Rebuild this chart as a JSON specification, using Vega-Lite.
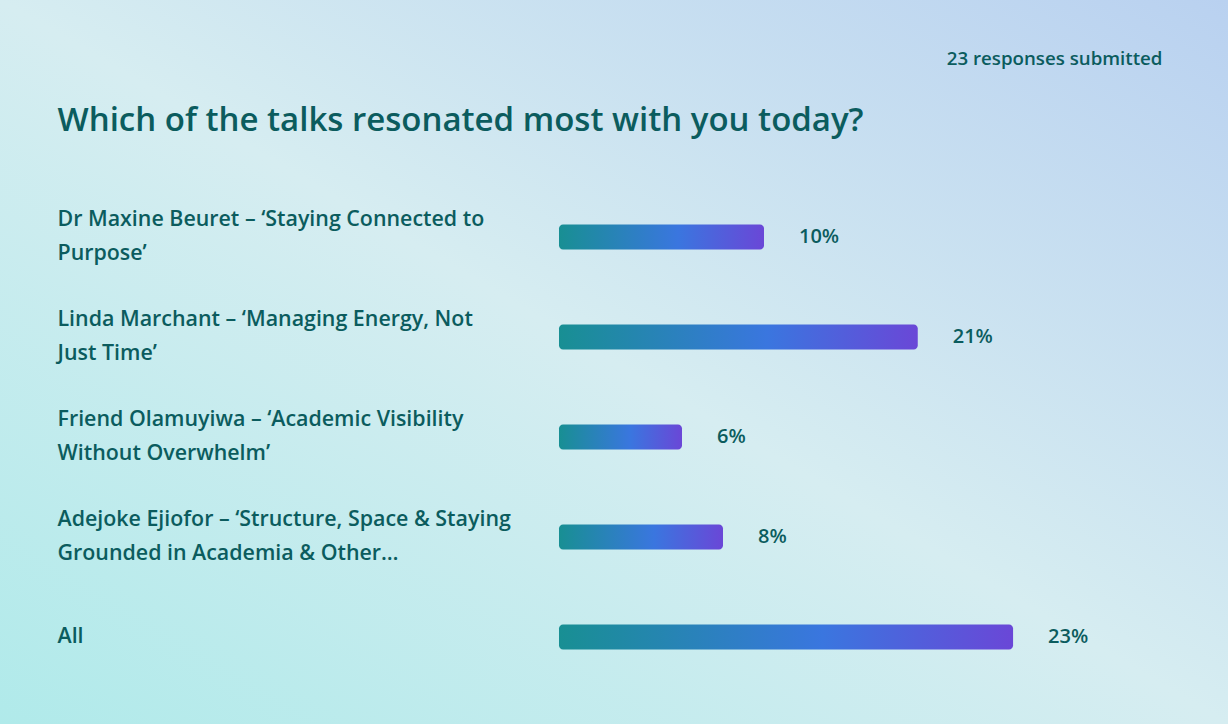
{
  "$schema": "https://vega.github.io/schema/vega-lite/v6.json",
  "width": 1228,
  "height": 724,
  "padding": 0,
  "autosize": {"type": "fit", "contains": "padding"},
  "background": "#d6eef2",
  "view": {
    "stroke": null,
    "fill": {
      "gradient": "linear",
      "x1": 0, "y1": 1, "x2": 1, "y2": 0,
      "stops": [
        {"offset": 0, "color": "#b0eaea"},
        {"offset": 0.5, "color": "#d6edf1"},
        {"offset": 1, "color": "#b9d1f0"}
      ]
    }
  },
  "data": {
    "values": [
      {"talk": "Dr Maxine Beuret – ‘Staying Connected to\nPurpose’", "share": 10, "pct": "10%"},
      {"talk": "Linda Marchant – ‘Managing Energy, Not\nJust Time’", "share": 17.5, "pct": "21%"},
      {"talk": "Friend Olamuyiwa – ‘Academic Visibility\nWithout Overwhelm’", "share": 6, "pct": "6%"},
      {"talk": "Adejoke Ejiofor – ‘Structure, Space & Staying\nGrounded in Academia & Other…", "share": 8, "pct": "8%"},
      {"talk": "All", "share": 22.15, "pct": "23%"}
    ]
  },
  "encoding": {
    "y": {
      "field": "talk",
      "type": "nominal",
      "sort": null,
      "scale": {"paddingInner": 0, "paddingOuter": 0, "range": [187, 687]},
      "axis": {
        "orient": "left",
        "offset": -57,
        "title": "Which of the talks resonated most with you today?",
        "titleX": 0,
        "titleY": 130,
        "titleAngle": 0,
        "titleAlign": "left",
        "titleBaseline": "alphabetic",
        "titleFont": "Open Sans",
        "titleFontSize": 33,
        "titleFontWeight": 600,
        "titleColor": "#0b5c5e",
        "titleLimit": 0,
        "domain": false,
        "ticks": false,
        "grid": false,
        "labelPadding": 0,
        "labelAlign": "left",
        "labelBaseline": "middle",
        "labelExpr": "split(datum.value, '\\n')",
        "labelOffset": {"condition": {"test": "indexof(datum.value, '\\n') >= 0", "value": -17}, "value": 0},
        "labelLineHeight": 34,
        "labelFont": "Open Sans",
        "labelFontSize": 21.4,
        "labelFontWeight": 600,
        "labelColor": "#0b5c5e",
        "labelLimit": 0,
        "labelOverlap": false,
        "labelFlush": false
      }
    },
    "x": {
      "field": "share",
      "type": "quantitative",
      "scale": {"domain": [-27.268, 32.634], "nice": false, "zero": false},
      "axis": {
        "orient": "top",
        "domain": false,
        "ticks": false,
        "labels": false,
        "grid": false,
        "title": "23 responses submitted",
        "titleX": 1162,
        "titleY": 58,
        "titleAlign": "right",
        "titleBaseline": "middle",
        "titleAngle": 0,
        "titleFont": "Open Sans",
        "titleFontSize": 18.7,
        "titleFontWeight": 600,
        "titleColor": "#0b5c5e"
      }
    }
  },
  "layer": [
    {
      "mark": {
        "type": "bar",
        "height": 25,
        "cornerRadius": 4,
        "color": {
          "gradient": "linear",
          "x1": 0, "y1": 0, "x2": 1, "y2": 0,
          "stops": [
            {"offset": 0, "color": "#188f93"},
            {"offset": 0.58, "color": "#3a76df"},
            {"offset": 1, "color": "#6a47d7"}
          ]
        }
      },
      "encoding": {
        "x": {"datum": 0, "type": "quantitative"},
        "x2": {"field": "share"}
      }
    },
    {
      "mark": {
        "type": "text",
        "align": "left",
        "baseline": "middle",
        "dx": 35,
        "font": "Open Sans",
        "fontSize": 20,
        "fontWeight": 600,
        "color": "#0b5c5e"
      },
      "encoding": {
        "text": {"field": "pct"}
      }
    }
  ]
}
